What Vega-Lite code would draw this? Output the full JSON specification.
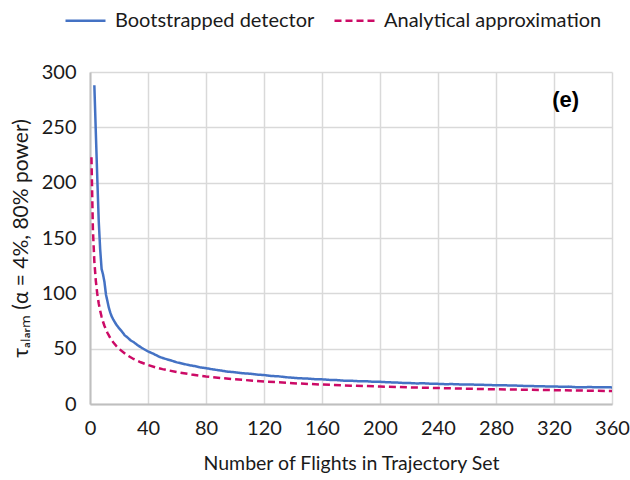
{
  "$schema": "https://vega.github.io/schema/vega-lite/v6.json",
  "autosize": {"type": "none"},
  "width": 522,
  "height": 332,
  "padding": {"left": 90, "top": 72, "right": 18, "bottom": 76},
  "background": "white",
  "config": {
    "font": "Lato",
    "view": {"stroke": null},
    "axis": {
      "labelFont": "Lato", "titleFont": "Lato", "labelColor": "#1a1a1a", "titleColor": "#1a1a1a",
      "labelFontSize": 20, "titleFontSize": 19.5, "titleFontWeight": "normal",
      "gridColor": "#d9d9d9", "gridWidth": 1.5, "domainColor": "#bfbfbf", "domainWidth": 2,
      "ticks": false, "labelPadding": 14, "labelFlush": false, "labelOverlap": false
    },
    "legend": {"labelFont": "Lato", "labelFontSize": 20, "labelColor": "#1a1a1a", "labelLimit": 0}
  },
  "datasets": {
    "curves": [
      {"series": "Bootstrapped detector", "n": 3, "v": 288},
      {"series": "Bootstrapped detector", "n": 4, "v": 246},
      {"series": "Bootstrapped detector", "n": 5, "v": 205},
      {"series": "Bootstrapped detector", "n": 6, "v": 166},
      {"series": "Bootstrapped detector", "n": 7, "v": 140},
      {"series": "Bootstrapped detector", "n": 8, "v": 122},
      {"series": "Bootstrapped detector", "n": 9, "v": 117},
      {"series": "Bootstrapped detector", "n": 10, "v": 110},
      {"series": "Bootstrapped detector", "n": 11, "v": 99},
      {"series": "Bootstrapped detector", "n": 12, "v": 93},
      {"series": "Bootstrapped detector", "n": 13, "v": 87},
      {"series": "Bootstrapped detector", "n": 14, "v": 82.5},
      {"series": "Bootstrapped detector", "n": 15, "v": 79},
      {"series": "Bootstrapped detector", "n": 16, "v": 76.5},
      {"series": "Bootstrapped detector", "n": 18, "v": 72},
      {"series": "Bootstrapped detector", "n": 20, "v": 68.5},
      {"series": "Bootstrapped detector", "n": 22, "v": 65.5},
      {"series": "Bootstrapped detector", "n": 24, "v": 62},
      {"series": "Bootstrapped detector", "n": 26, "v": 60},
      {"series": "Bootstrapped detector", "n": 28, "v": 57.5},
      {"series": "Bootstrapped detector", "n": 30, "v": 56},
      {"series": "Bootstrapped detector", "n": 33, "v": 53},
      {"series": "Bootstrapped detector", "n": 36, "v": 50.5},
      {"series": "Bootstrapped detector", "n": 40, "v": 47.5},
      {"series": "Bootstrapped detector", "n": 44, "v": 45.2},
      {"series": "Bootstrapped detector", "n": 48, "v": 42.5},
      {"series": "Bootstrapped detector", "n": 52, "v": 40.8},
      {"series": "Bootstrapped detector", "n": 56, "v": 39.3},
      {"series": "Bootstrapped detector", "n": 60, "v": 37.6},
      {"series": "Bootstrapped detector", "n": 64, "v": 36.4},
      {"series": "Bootstrapped detector", "n": 68, "v": 35.2},
      {"series": "Bootstrapped detector", "n": 72, "v": 34.3},
      {"series": "Bootstrapped detector", "n": 76, "v": 33.1},
      {"series": "Bootstrapped detector", "n": 80, "v": 32.4},
      {"series": "Bootstrapped detector", "n": 85, "v": 31.2},
      {"series": "Bootstrapped detector", "n": 90, "v": 30.3},
      {"series": "Bootstrapped detector", "n": 95, "v": 29.2},
      {"series": "Bootstrapped detector", "n": 100, "v": 28.7},
      {"series": "Bootstrapped detector", "n": 105, "v": 27.8},
      {"series": "Bootstrapped detector", "n": 110, "v": 27.4},
      {"series": "Bootstrapped detector", "n": 115, "v": 26.6},
      {"series": "Bootstrapped detector", "n": 120, "v": 26.2},
      {"series": "Bootstrapped detector", "n": 125, "v": 25.3},
      {"series": "Bootstrapped detector", "n": 130, "v": 25.0},
      {"series": "Bootstrapped detector", "n": 135, "v": 24.2},
      {"series": "Bootstrapped detector", "n": 140, "v": 23.7},
      {"series": "Bootstrapped detector", "n": 145, "v": 23.2},
      {"series": "Bootstrapped detector", "n": 150, "v": 23.0},
      {"series": "Bootstrapped detector", "n": 155, "v": 22.4},
      {"series": "Bootstrapped detector", "n": 160, "v": 22.3},
      {"series": "Bootstrapped detector", "n": 165, "v": 21.8},
      {"series": "Bootstrapped detector", "n": 170, "v": 21.6},
      {"series": "Bootstrapped detector", "n": 175, "v": 21.1},
      {"series": "Bootstrapped detector", "n": 180, "v": 21.0},
      {"series": "Bootstrapped detector", "n": 185, "v": 20.6},
      {"series": "Bootstrapped detector", "n": 190, "v": 20.6},
      {"series": "Bootstrapped detector", "n": 195, "v": 20.1},
      {"series": "Bootstrapped detector", "n": 200, "v": 20.1},
      {"series": "Bootstrapped detector", "n": 205, "v": 19.6},
      {"series": "Bootstrapped detector", "n": 210, "v": 19.5},
      {"series": "Bootstrapped detector", "n": 215, "v": 19.1},
      {"series": "Bootstrapped detector", "n": 220, "v": 19.0},
      {"series": "Bootstrapped detector", "n": 225, "v": 18.6},
      {"series": "Bootstrapped detector", "n": 230, "v": 18.7},
      {"series": "Bootstrapped detector", "n": 235, "v": 18.3},
      {"series": "Bootstrapped detector", "n": 240, "v": 18.2},
      {"series": "Bootstrapped detector", "n": 245, "v": 17.9},
      {"series": "Bootstrapped detector", "n": 250, "v": 18.0},
      {"series": "Bootstrapped detector", "n": 255, "v": 17.7},
      {"series": "Bootstrapped detector", "n": 260, "v": 17.6},
      {"series": "Bootstrapped detector", "n": 265, "v": 17.5},
      {"series": "Bootstrapped detector", "n": 270, "v": 17.4},
      {"series": "Bootstrapped detector", "n": 275, "v": 17.1},
      {"series": "Bootstrapped detector", "n": 280, "v": 17.0},
      {"series": "Bootstrapped detector", "n": 285, "v": 17.0},
      {"series": "Bootstrapped detector", "n": 290, "v": 16.7},
      {"series": "Bootstrapped detector", "n": 295, "v": 16.6},
      {"series": "Bootstrapped detector", "n": 300, "v": 16.3},
      {"series": "Bootstrapped detector", "n": 305, "v": 16.2},
      {"series": "Bootstrapped detector", "n": 310, "v": 16.0},
      {"series": "Bootstrapped detector", "n": 315, "v": 15.9},
      {"series": "Bootstrapped detector", "n": 320, "v": 15.8},
      {"series": "Bootstrapped detector", "n": 325, "v": 15.6},
      {"series": "Bootstrapped detector", "n": 330, "v": 15.7},
      {"series": "Bootstrapped detector", "n": 335, "v": 15.2},
      {"series": "Bootstrapped detector", "n": 340, "v": 15.2},
      {"series": "Bootstrapped detector", "n": 345, "v": 15.3},
      {"series": "Bootstrapped detector", "n": 350, "v": 15.1},
      {"series": "Bootstrapped detector", "n": 355, "v": 15.1},
      {"series": "Bootstrapped detector", "n": 361, "v": 15.0},
      {"series": "Analytical approximation", "n": 1, "v": 223},
      {"series": "Analytical approximation", "n": 2, "v": 157.7},
      {"series": "Analytical approximation", "n": 3, "v": 128.7},
      {"series": "Analytical approximation", "n": 4, "v": 111.5},
      {"series": "Analytical approximation", "n": 5, "v": 99.7},
      {"series": "Analytical approximation", "n": 6, "v": 91.0},
      {"series": "Analytical approximation", "n": 7, "v": 84.3},
      {"series": "Analytical approximation", "n": 8, "v": 78.8},
      {"series": "Analytical approximation", "n": 9, "v": 74.3},
      {"series": "Analytical approximation", "n": 10, "v": 70.5},
      {"series": "Analytical approximation", "n": 12, "v": 64.4},
      {"series": "Analytical approximation", "n": 14, "v": 59.6},
      {"series": "Analytical approximation", "n": 16, "v": 55.8},
      {"series": "Analytical approximation", "n": 18, "v": 52.6},
      {"series": "Analytical approximation", "n": 20, "v": 49.9},
      {"series": "Analytical approximation", "n": 25, "v": 44.6},
      {"series": "Analytical approximation", "n": 30, "v": 40.7},
      {"series": "Analytical approximation", "n": 35, "v": 37.7},
      {"series": "Analytical approximation", "n": 40, "v": 35.3},
      {"series": "Analytical approximation", "n": 45, "v": 33.2},
      {"series": "Analytical approximation", "n": 50, "v": 31.5},
      {"series": "Analytical approximation", "n": 60, "v": 28.8},
      {"series": "Analytical approximation", "n": 70, "v": 26.7},
      {"series": "Analytical approximation", "n": 80, "v": 24.9},
      {"series": "Analytical approximation", "n": 90, "v": 23.5},
      {"series": "Analytical approximation", "n": 100, "v": 22.3},
      {"series": "Analytical approximation", "n": 120, "v": 20.4},
      {"series": "Analytical approximation", "n": 140, "v": 18.8},
      {"series": "Analytical approximation", "n": 160, "v": 17.6},
      {"series": "Analytical approximation", "n": 180, "v": 16.6},
      {"series": "Analytical approximation", "n": 200, "v": 15.8},
      {"series": "Analytical approximation", "n": 220, "v": 15.0},
      {"series": "Analytical approximation", "n": 240, "v": 14.4},
      {"series": "Analytical approximation", "n": 260, "v": 13.8},
      {"series": "Analytical approximation", "n": 280, "v": 13.3},
      {"series": "Analytical approximation", "n": 300, "v": 12.9},
      {"series": "Analytical approximation", "n": 320, "v": 12.5},
      {"series": "Analytical approximation", "n": 340, "v": 12.1},
      {"series": "Analytical approximation", "n": 361, "v": 11.7}
    ],
    "note": [{"n": 328, "v": 275, "label": "(e)"}]
  },
  "layer": [
    {
      "data": {"name": "curves"},
      "mark": {"type": "line", "strokeWidth": 2.5, "clip": true},
      "encoding": {
        "x": {
          "field": "n", "type": "quantitative",
          "scale": {"domain": [0, 360], "nice": false},
          "axis": {"values": [0, 40, 80, 120, 160, 200, 240, 280, 320, 360], "title": "Number of Flights in Trajectory Set", "titlePadding": 16}
        },
        "y": {
          "field": "v", "type": "quantitative",
          "scale": {"domain": [0, 300], "nice": false},
          "axis": {"values": [0, 50, 100, 150, 200, 250, 300], "title": "τₐₗₐᵣₘ (α = 4%, 80% power)", "titlePadding": 10, "titleFontSize": 21}
        },
        "color": {
          "field": "series", "type": "nominal",
          "scale": {"domain": ["Bootstrapped detector", "Analytical approximation"], "range": ["#4472c4", "#cc0a66"]},
          "legend": {"title": null, "orient": "none", "direction": "horizontal", "legendX": -26, "legendY": -73, "symbolType": "stroke", "symbolSize": 1600, "symbolStrokeWidth": 2.5, "columnPadding": 14, "labelOffset": 8}
        },
        "strokeDash": {
          "field": "series", "type": "nominal",
          "scale": {"domain": ["Bootstrapped detector", "Analytical approximation"], "range": [[1, 0], [7, 4]]},
          "legend": {"title": null, "orient": "none", "direction": "horizontal", "legendX": -26, "legendY": -73, "symbolType": "stroke", "symbolSize": 1600, "symbolStrokeWidth": 2.5, "columnPadding": 14, "labelOffset": 8}
        }
      }
    },
    {
      "data": {"name": "note"},
      "mark": {"type": "text", "font": "Liberation Sans", "fontWeight": "bold", "fontSize": 22, "color": "#000000"},
      "encoding": {
        "x": {"field": "n", "type": "quantitative"},
        "y": {"field": "v", "type": "quantitative"},
        "text": {"field": "label"}
      }
    }
  ]
}
